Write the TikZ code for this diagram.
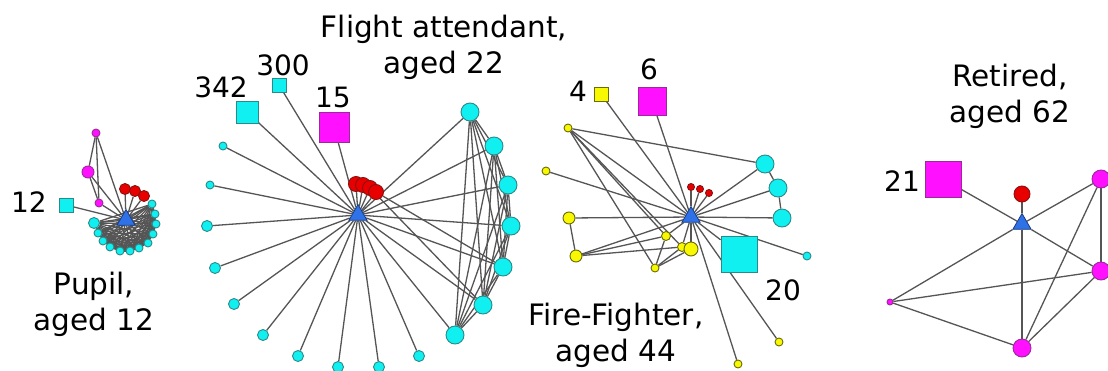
\documentclass[tikz,border=0pt]{standalone}
\usepackage{fontspec}
\setmainfont{DejaVu Sans}
\usetikzlibrary{shapes.geometric,backgrounds}
\definecolor{cy}{HTML}{10F0F0}
\definecolor{cyd}{HTML}{2A8A8A}
\definecolor{mg}{HTML}{FF10FF}
\definecolor{mgd}{HTML}{9A2A9A}
\definecolor{rd}{HTML}{E80000}
\definecolor{rdd}{HTML}{8A1010}
\definecolor{yl}{HTML}{F8F800}
\definecolor{yld}{HTML}{6A6A10}
\definecolor{bl}{HTML}{2F72E8}
\definecolor{bld}{HTML}{1A3A80}
\definecolor{ed}{HTML}{555555}
\tikzset{
  nd/.style={circle,inner sep=0pt,line width=0.9pt,minimum size=#1pt},
  cyc/.style={nd=#1,fill=cy,draw=cyd},
  mgc/.style={nd=#1,fill=mg,draw=mgd},
  rdc/.style={nd=#1,fill=rd,draw=rdd},
  ylc/.style={nd=#1,fill=yl,draw=yld},
  sqn/.style={rectangle,inner sep=0pt,line width=0.9pt,minimum size=#1pt},
  cys/.style={sqn=#1,fill=cy,draw=cyd},
  mgs/.style={sqn=#1,fill=mg,draw=mgd},
  yls/.style={sqn=#1,fill=yl,draw=yld},
  ego/.style={regular polygon,regular polygon sides=3,fill=bl,draw=bld,line width=0.8pt,inner sep=0pt,minimum size=21pt},
  lnk/.style={draw=ed,line width=1.3pt},
  lbl/.style={font=\fontsize{29.5}{36}\selectfont,inner sep=0pt,align=center},
  num/.style={font=\fontsize{28}{34}\selectfont,inner sep=0pt,anchor=base},
}
\begin{document}
\begin{tikzpicture}[x=1pt,y=-1pt]
\useasboundingbox (0,0) rectangle (1108,370);

% ---------------- Pupil ----------------
\node[ego] (P) at (126,220) {};
\node[mgc=8] (pm1) at (96,133) {};
\node[mgc=12] (pm2) at (88,172) {};
\node[mgc=8] (pm3) at (99,203) {};
\node[rdc=11] (pr1) at (125,189) {};
\node[rdc=11] (pr2) at (135,191) {};
\node[rdc=11] (pr3) at (144,196) {};
\node[cys=14] (psq) at (66,205) {};
\foreach \n/\x/\y/\s in {1/94/223/11,2/98/233/8,3/103/241/8,4/110/247/8,5/120/251/8,6/130/251/8,7/139/248/8,8/148/243/8,9/153/234/8,10/156/224/8,11/155/214/8,12/152/204/8}
  \node[cyc=\s] (pc\n) at (\x,\y) {};
\node[num] (l12) at (29,212) {12};
\node[lbl,anchor=north] (tpupil) at (94,272) {Pupil,\\aged 12};

% ---------------- Flight attendant ----------------
\node[ego] (F) at (358,215) {};
\node[rdc=15] (fr1) at (356,184) {};
\node[rdc=15] (fr2) at (363,185) {};
\node[rdc=15] (fr3) at (370,188) {};
\node[rdc=15] (fr4) at (376,192) {};
\node[cys=22] (fs1) at (247,112) {};
\node[cys=14] (fs2) at (279,85) {};
\node[mgs=30] (fs3) at (334,127) {};
\foreach \n/\x/\y/\s in {1/223/146/8,2/210/185/8,3/207/226/11,4/215/268/11,5/234/304/11,6/263/335/11,7/298/356/11,8/338/367/11,9/379/367/11,10/419/356/11}
  \node[cyc=\s] (fl\n) at (\x,\y) {};
\foreach \n/\x/\y in {1/470/112,2/494/146,3/508/185,4/511/226,5/503/267,6/483/305,7/455/335}
  \node[cyc=18] (fa\n) at (\x,\y) {};
\node[num] (l342) at (221,97) {342};
\node[num] (l300) at (283,75) {300};
\node[num] (l15) at (333,107) {15};
\node[lbl,anchor=north] (tflight) at (444,15) {Flight attendant,\\aged 22};

% ---------------- Fire-Fighter ----------------
\node[ego] (H) at (691,217) {};
\node[rdc=7] (hr1) at (691,187) {};
\node[rdc=7] (hr2) at (700,189) {};
\node[rdc=7] (hr3) at (709,193) {};
\node[yls=14] (hs4) at (601,94) {};
\node[mgs=28] (hs6) at (652,101) {};
\node[cys=36] (hs20) at (739,254) {};
\node[cyc=18] (hc1) at (765,164) {};
\node[cyc=18] (hc2) at (778,188) {};
\node[cyc=18] (hc3) at (782,218) {};
\node[cyc=8] (hc4) at (807,256) {};
\foreach \n/\x/\y/\s in {1/568/128/8,2/546/171/8,3/569/218/12,4/576/256/12,5/655/268/8,6/666/236/9,7/682/247/9,8/691/249/14,9/779/342/8,10/738/364/8}
  \node[ylc=\s] (hy\n) at (\x,\y) {};
\node[num] (l4) at (578,101) {4};
\node[num] (l6) at (649,79) {6};
\node[num] (l20) at (783,300) {20};
\node[lbl,anchor=north] (tfire) at (616,303) {Fire-Fighter,\\aged 44};

% ---------------- Retired ----------------
\node[ego] (R) at (1022,224) {};
\node[mgs=36] (rsq) at (943,179) {};
\node[rdc=16] (rr) at (1022,194) {};
\node[mgc=18] (rm1) at (1101,179) {};
\node[mgc=18] (rm2) at (1101,271) {};
\node[mgc=18] (rm3) at (1022,348) {};
\node[mgc=6] (rm4) at (890,302) {};
\node[num] (l21) at (902,191) {21};
\node[lbl,anchor=north] (tretired) at (1010,64) {Retired,\\aged 62};

% ---------------- edges ----------------
\begin{pgfonlayer}{background}
\fill[white] (0,0) rectangle (1108,370);
% pupil
\foreach \t in {pm1,pm2,pm3,pr1,pr2,pr3,psq} \draw[lnk] (P) -- (\t);
\draw[lnk] (pm1) -- (pm2); \draw[lnk] (pm1) -- (pm3); \draw[lnk] (pm2) -- (pm3);
\foreach \i in {1,...,12} \draw[lnk] (P) -- (pc\i);
\foreach \i in {1,...,11}{
  \pgfmathtruncatemacro\nxt{\i+1}
  \foreach \j in {\nxt,...,12} \draw[lnk] (pc\i) -- (pc\j);
}
% flight attendant
\foreach \t in {fr1,fr2,fr3,fr4,fs1,fs2,fs3} \draw[lnk] (F) -- (\t);
\foreach \i in {1,...,10} \draw[lnk] (F) -- (fl\i);
\foreach \i in {1,...,7} \draw[lnk] (F) -- (fa\i);
\foreach \i in {1,...,6}{
  \pgfmathtruncatemacro\nxt{\i+1}
  \foreach \j in {\nxt,...,7} \draw[lnk] (fa\i) -- (fa\j);
}
\draw[lnk] (fr4) -- (fa5); \draw[lnk] (fr3) -- (fa6);
% fire-fighter
\foreach \t in {hr1,hr2,hr3,hs4,hs6,hs20,hc1,hc2,hc3,hc4,hy1,hy2,hy3,hy4,hy6,hy7,hy8,hy9,hy10} \draw[lnk] (H) -- (\t);
\draw[lnk] (hy1) -- (hc1);
\draw[lnk] (hy1) -- (hy5); \draw[lnk] (hy1) -- (hy6); \draw[lnk] (hy1) -- (hy7);
\draw[lnk] (hy3) -- (hy4);
\draw[lnk] (hy4) -- (hy6); \draw[lnk] (hy4) -- (hy7);
\draw[lnk] (hy5) -- (hy6); \draw[lnk] (hy5) -- (hy7); \draw[lnk] (hy5) -- (hy8);
\draw[lnk] (hc1) -- (hc2); \draw[lnk] (hc2) -- (hc3);
% retired
\foreach \t in {rsq,rr,rm1,rm2,rm3,rm4} \draw[lnk] (R) -- (\t);
\draw[lnk] (rm4) -- (rm2); \draw[lnk] (rm4) -- (rm3);
\draw[lnk] (rm1) -- (rm2); \draw[lnk] (rm1) -- (rm3); \draw[lnk] (rm2) -- (rm3);
\end{pgfonlayer}
\end{tikzpicture}
\end{document}
